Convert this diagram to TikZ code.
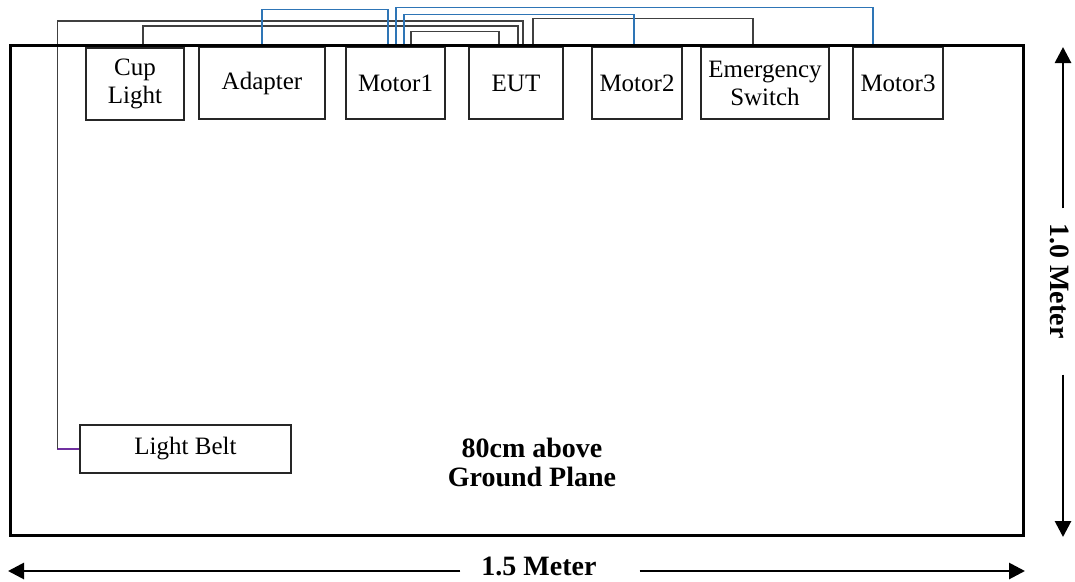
\documentclass[tikz,border=0pt]{standalone}
\usepackage{fontspec}
\setmainfont{Liberation Serif}
\usetikzlibrary{arrows.meta, positioning, calc}
\definecolor{wireblue}{RGB}{46,117,182}
\definecolor{beltpurple}{RGB}{112,48,160}

\begin{document}
\begin{tikzpicture}[x=1pt, y=-1pt,
    unit/.style={draw=black!85, line width=1.3pt, fill=white,
                 minimum height=72pt, inner sep=0pt, align=center,
                 font=\fontsize{25}{28}\selectfont},
    tablebox/.style={draw, line width=3pt, minimum width=1013pt,
                     minimum height=490pt, inner sep=0pt},
    wire/.style={draw=black!75, line width=1.4pt},
    bluewire/.style={draw=wireblue, line width=1.4pt},
    dimline/.style={line width=2.8pt, -{Triangle[length=16pt, width=16pt]}},
    dimlabel/.style={font=\bfseries\fontsize{28}{29}\selectfont, inner sep=0pt},
]
\useasboundingbox (0,0) rectangle (1075,581);

% units along the back edge of the table
\node[unit, line width=2pt, minimum width=98pt] (cupLight) at (135,84) {Cup\\Light};
\node[unit, minimum width=126pt] (adapter)   at (262,83)   {Adapter};
\node[unit, minimum width=99pt]  (motorA)    at (395.5,83) {Motor1};
\node[unit, minimum width=94pt]  (eut)       at (516,83)   {EUT};
\node[unit, minimum width=90pt]  (motorB)    at (637,83)   {Motor2};
\node[unit, minimum width=128pt] (emgSwitch) at (765,83)   {Emergency\\Switch};
\node[unit, minimum width=90pt]  (motorC)    at (898,83)   {Motor3};
\node[unit, minimum width=211pt, minimum height=48pt] (lightBelt) at (185.5,449) {Light Belt};

% black cables
\draw[wire] ([xshift=8pt]cupLight.north) -- ++(0,-21) -| ([xshift=2pt]eut.north);
\draw[draw=beltpurple, line width=1.4pt] (lightBelt.west) -- ++(-22,0) coordinate (beltTurn);
\draw[wire] (beltTurn) -- ++(0,-428) -| ([xshift=7pt]eut.north);
\draw[wire] ([xshift=17pt]eut.north) -- ++(0,-28) -| ([xshift=-12pt]emgSwitch.north);
\draw[wire] ([xshift=15.5pt]motorA.north) -- ++(0,-15) -| ([xshift=-17pt]eut.north);

% blue cables
\draw[bluewire] (adapter.north) -- ++(0,-37) -| ([xshift=-7.5pt]motorA.north);
\draw[bluewire] ([xshift=0.5pt]motorA.north) -- ++(0,-39) -| ([xshift=-25pt]motorC.north);
\draw[bluewire] ([xshift=8.5pt]motorA.north) -- ++(0,-32) -| ([xshift=-3pt]motorB.north);

% table top
\node[tablebox] (table) at (516.5,290) {};
\node[dimlabel, align=center] (planeNote) at (532,462) {80cm above\\Ground Plane};

% dimensions
\coordinate (widthLeft) at (8,571);
\coordinate (widthRight) at (1025,571);
\node[dimlabel] (widthLabel) at (539,566) {1.5 Meter};
\draw[dimline] ([shift={(-21,5)}]widthLabel.west) -- (widthLeft);
\draw[dimline] ([shift={(43,5)}]widthLabel.east) -- (widthRight);

\coordinate (heightTop) at (1063,47);
\coordinate (heightBottom) at (1063,537);
\node[dimlabel, rotate=-90] (heightLabel) at (1060,281) {1.0 Meter};
\draw[dimline] ([shift={(3,-15)}]heightLabel.west) -- (heightTop);
\draw[dimline] ([shift={(3,36)}]heightLabel.east) -- (heightBottom);

\end{tikzpicture}
\end{document}
